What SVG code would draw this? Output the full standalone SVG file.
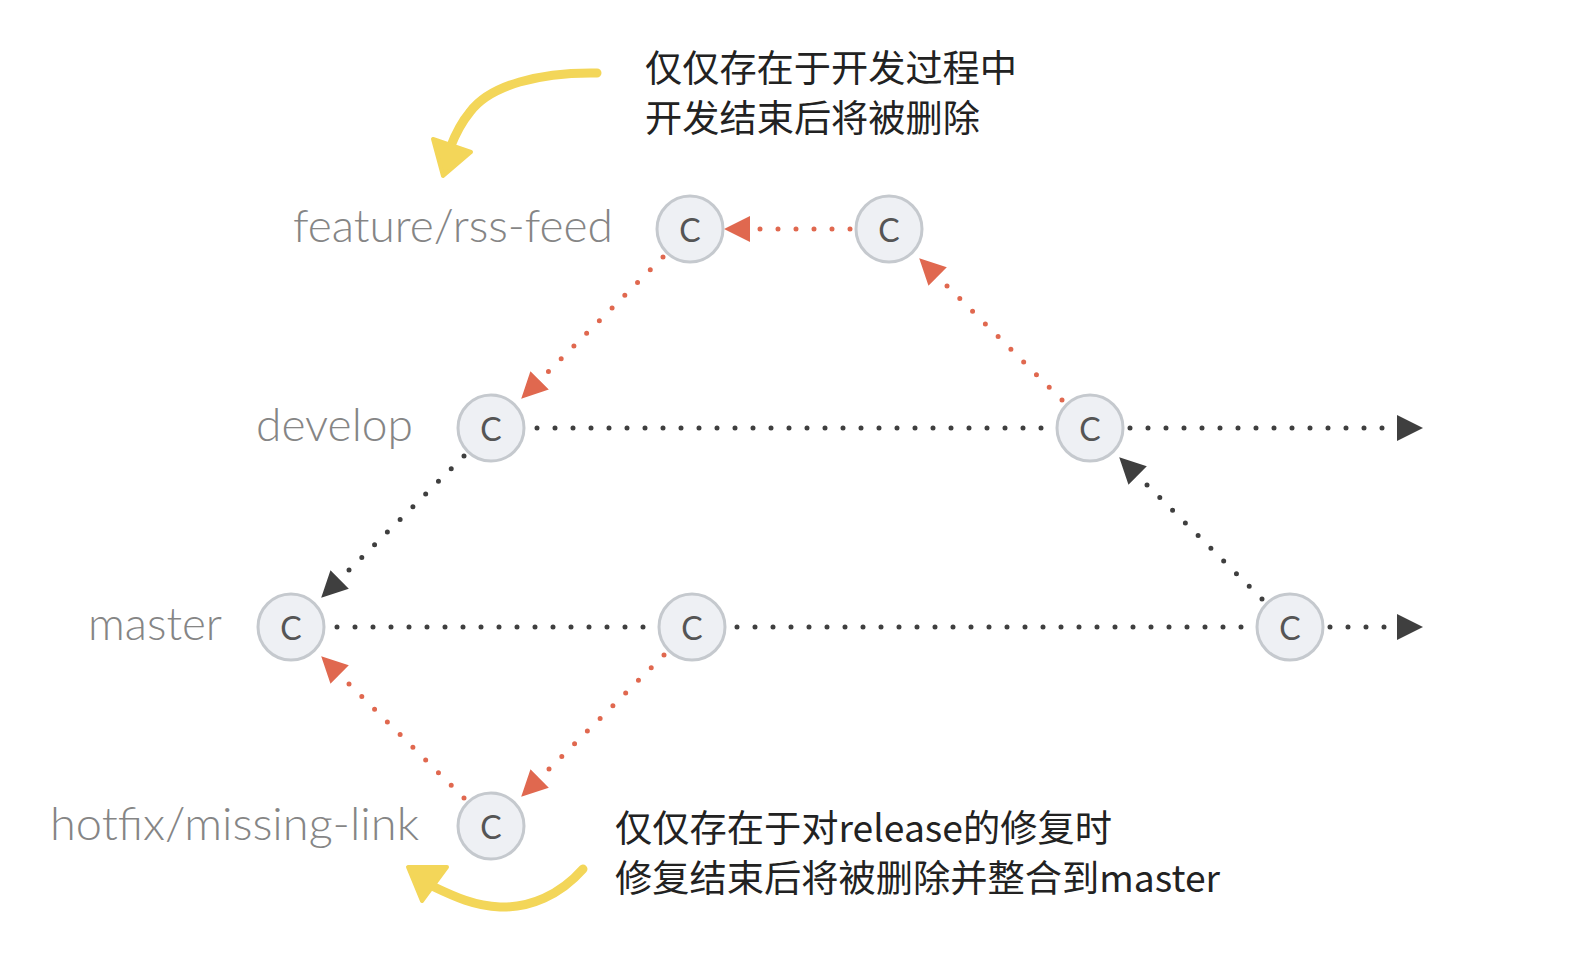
<svg xmlns="http://www.w3.org/2000/svg" width="1574" height="976" viewBox="0 0 1574 976">
<style>
.node circle{fill:#eef0f4;stroke:#c5c9ce;stroke-width:3}
.node text{font-family:Lato,"Open Sans",sans-serif;font-size:32px;fill:#555;text-anchor:middle;dominant-baseline:central}
.lbl{font-family:Lato,"Open Sans",sans-serif;font-weight:300;font-size:45px;fill:#858585}
.note{font-family:"Noto Sans CJK SC","Noto Sans",sans-serif;font-size:37px;fill:#222}
.red{stroke:#e0684f;stroke-width:5;stroke-linecap:round;stroke-dasharray:0 18;fill:none}
.dark{stroke:#3f3f3f;stroke-width:5;stroke-linecap:round;stroke-dasharray:0 18;fill:none}
.red.a{marker-end:url(#ar)}
.dark.a{marker-end:url(#ad)}
.yel{stroke:#f3d659;stroke-width:9;stroke-linecap:round;fill:none}
.yelh{fill:#f3d659;stroke:#f3d659;stroke-width:4;stroke-linejoin:round}
</style>
<defs>
<marker id="ar" markerUnits="userSpaceOnUse" markerWidth="28" markerHeight="28" refX="15" refY="13" orient="auto" viewBox="0 0 28 28">
<path d="M0,0 L26,13 L0,26 z" fill="#e0684f"/>
</marker>
<marker id="ad" markerUnits="userSpaceOnUse" markerWidth="28" markerHeight="28" refX="15" refY="13" orient="auto" viewBox="0 0 28 28">
<path d="M0,0 L26,13 L0,26 z" fill="#3f3f3f"/>
</marker>
</defs>
<rect width="1574" height="976" fill="#fff"/>
<g id="connectors">
<line class="red a" x1="850" y1="229" x2="735" y2="229"/>
<line class="red a" x1="1062" y1="400" x2="927" y2="266"/>
<line class="red a" x1="663" y1="257" x2="529" y2="391"/>
<line class="dark" x1="537" y1="428" x2="1045" y2="428"/>
<line class="dark a" x1="1130" y1="428" x2="1412" y2="428"/>
<line class="dark a" x1="464" y1="456" x2="329" y2="590"/>
<line class="dark" x1="337" y1="627" x2="647" y2="627"/>
<line class="dark" x1="737" y1="627" x2="1245" y2="627"/>
<line class="dark a" x1="1330" y1="627" x2="1412" y2="627"/>
<line class="dark a" x1="1262" y1="599" x2="1127" y2="465"/>
<line class="red a" x1="464" y1="798" x2="329" y2="664"/>
<line class="red a" x1="664" y1="655" x2="529" y2="789"/>
</g>
<g id="annot-top">
<path class="yel" d="M597,73 C540,72 490,85 470,112 C460,124 455,135 450,148"/>
<polygon class="yelh" points="433,139 471,152 443,176"/>
<text class="note" x="645" y="82" textLength="372" lengthAdjust="spacingAndGlyphs">仅仅存在于开发过程中</text>
<text class="note" x="645" y="132" textLength="335" lengthAdjust="spacingAndGlyphs">开发结束后将被删除</text>
</g>
<g id="annot-bottom">
<path class="yel" d="M583,869 C560,895 530,908 500,907 C475,906 455,897 432,886"/>
<polygon class="yelh" points="408,867 447,867 422,901"/>
<text class="note" x="615" y="842" textLength="497" lengthAdjust="spacingAndGlyphs">仅仅存在于对release的修复时</text>
<text class="note" x="615" y="892" textLength="605" lengthAdjust="spacingAndGlyphs">修复结束后将被删除并整合到master</text>
</g>
<g id="labels">
<text class="lbl" x="293" y="242" textLength="320" lengthAdjust="spacingAndGlyphs">feature/rss-feed</text>
<text class="lbl" x="256" y="441" textLength="157" lengthAdjust="spacingAndGlyphs">develop</text>
<text class="lbl" x="88" y="640" textLength="134" lengthAdjust="spacingAndGlyphs">master</text>
<text class="lbl" x="50" y="840" textLength="369" lengthAdjust="spacingAndGlyphs">hotfix/missing-link</text>
</g>
<g id="f1" class="node"><circle cx="690" cy="229" r="33"/><text x="690" y="229">C</text></g>
<g id="f2" class="node"><circle cx="889" cy="229" r="33"/><text x="889" y="229">C</text></g>
<g id="d1" class="node"><circle cx="491" cy="428" r="33"/><text x="491" y="428">C</text></g>
<g id="d2" class="node"><circle cx="1090" cy="428" r="33"/><text x="1090" y="428">C</text></g>
<g id="m1" class="node"><circle cx="291" cy="627" r="33"/><text x="291" y="627">C</text></g>
<g id="m2" class="node"><circle cx="692" cy="627" r="33"/><text x="692" y="627">C</text></g>
<g id="m3" class="node"><circle cx="1290" cy="627" r="33"/><text x="1290" y="627">C</text></g>
<g id="h1" class="node"><circle cx="491" cy="826" r="33"/><text x="491" y="826">C</text></g>
</svg>
